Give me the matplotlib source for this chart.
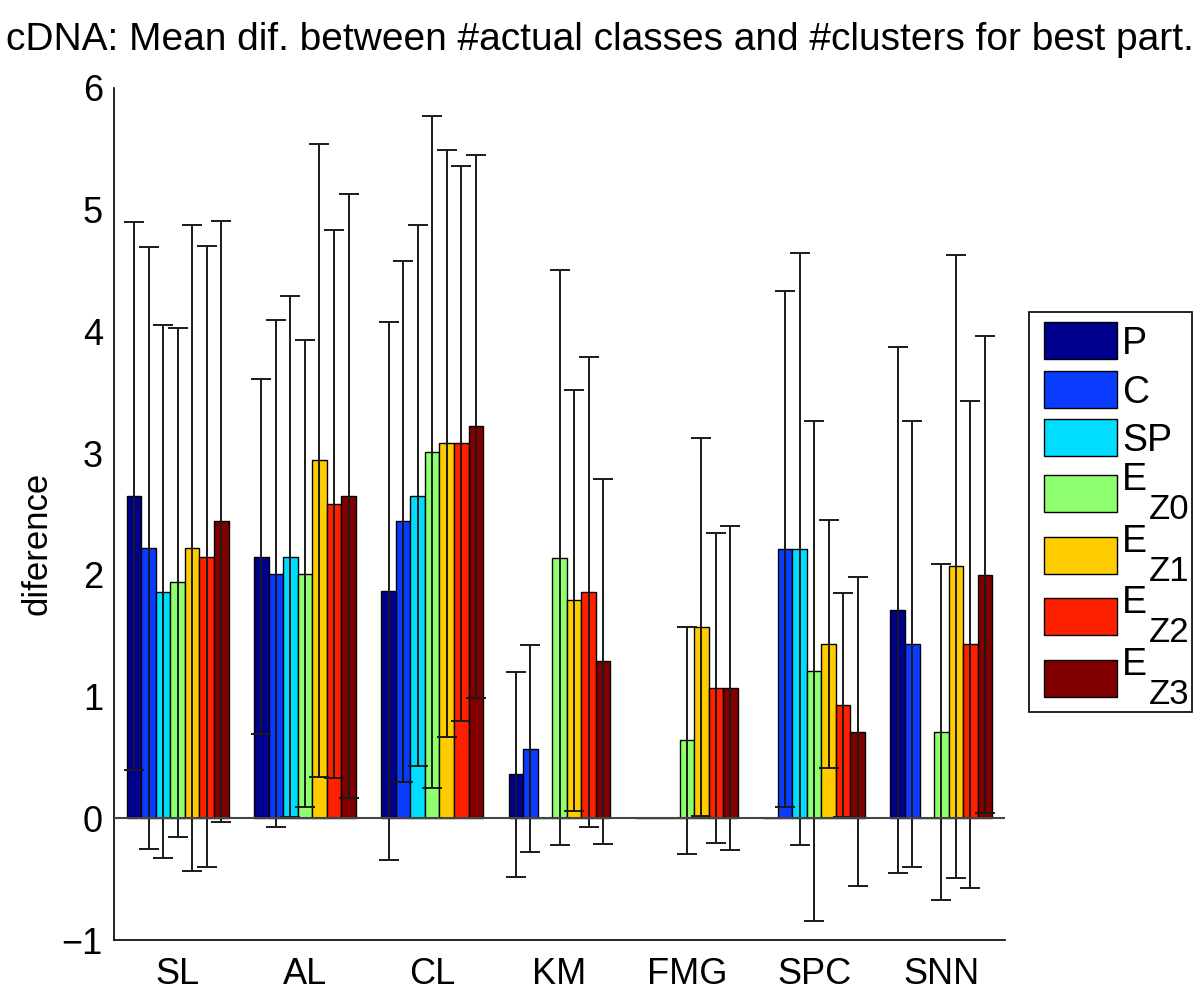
# grouped bars with error bars, matlab-ish look
import matplotlib
matplotlib.use("Agg")
import matplotlib.pyplot as plt
from matplotlib.patches import Rectangle
import numpy as np

plt.rcParams['font.family'] = ['Liberation Sans', 'DejaVu Sans']

# data
methods = ['SL', 'AL', 'CL', 'KM', 'FMG', 'SPC', 'SNN']
series_main = ['P', 'C', 'SP', 'E', 'E', 'E', 'E']
series_sub = ['', '', '', 'Z0', 'Z1', 'Z2', 'Z3']

mean_P   = [2.65, 2.15, 1.87, 0.36, 0.00, 0.00, 1.71]
mean_C   = [2.22, 2.01, 2.44, 0.57, 0.00, 2.21, 1.43]
mean_SP  = [1.86, 2.15, 2.65, 0.00, 0.00, 2.21, 0.00]
mean_EZ0 = [1.94, 2.01, 3.01, 2.14, 0.64, 1.21, 0.71]
mean_EZ1 = [2.22, 2.94, 3.08, 1.79, 1.57, 1.43, 2.07]
mean_EZ2 = [2.15, 2.58, 3.08, 1.86, 1.07, 0.93, 1.43]
mean_EZ3 = [2.44, 2.65, 3.22, 1.29, 1.07, 0.71, 2.00]

sd_P   = [2.25, 1.46, 2.21, 0.84, 0.00, 0.00, 2.16]
sd_C   = [2.47, 2.08, 2.14, 0.85, 0.00, 2.12, 1.83]
sd_SP  = [2.19, 2.14, 2.22, 0.00, 0.00, 2.43, 0.00]
sd_EZ0 = [2.09, 1.92, 2.76, 2.36, 0.93, 2.05, 1.38]
sd_EZ1 = [2.65, 2.60, 2.41, 1.73, 1.55, 1.02, 2.56]
sd_EZ2 = [2.55, 2.25, 2.28, 1.93, 1.27, 0.92, 2.00]
sd_EZ3 = [2.47, 2.48, 2.23, 1.50, 1.33, 1.27, 1.96]

colores = ['#00008F', '#0A3CFF', '#00DDFF', '#8FFF70', '#FFCC00', '#FF2000', '#800000']

medias = [mean_P, mean_C, mean_SP, mean_EZ0, mean_EZ1, mean_EZ2, mean_EZ3]
desvs = [sd_P, sd_C, sd_SP, sd_EZ0, sd_EZ1, sd_EZ2, sd_EZ3]

W, H = 1200, 992
fig = plt.figure(figsize=(W / 100, H / 100), dpi=100)
ax = fig.add_axes([0.095, 0.0524, 0.7425, 0.859])

x = np.arange(1, len(methods) + 1)
n = len(medias)
w = 0.8 / n

for i in range(n):
    pos = x + (i - (n - 1) / 2) * w
    m = np.array(medias[i])
    s = np.array(desvs[i])
    ax.bar(pos, m, width=w, color=colores[i], edgecolor='black', linewidth=1.0, zorder=2)
    ok = s > 0
    ax.errorbar(pos[ok], m[ok], yerr=s[ok], fmt='none', ecolor='#1a1a1a',
                elinewidth=1.4, capsize=7.5, capthick=1.4, zorder=3)

ax.axhline(0, color='#444444', linewidth=1.5, zorder=4)

ax.set_xlim(0.5, 7.5)
ax.set_ylim(-1, 6)
ax.set_xticks(x)
ax.set_xticklabels(methods)
ax.set_yticks(range(-1, 7))
ax.set_yticklabels(['\u22121', '0', '1', '2', '3', '4', '5', '6'])
ax.tick_params(axis='both', length=0, labelsize=26, pad=8)
ax.tick_params(axis='x', pad=12)

ax.spines['top'].set_visible(False)
ax.spines['right'].set_visible(False)
ax.spines['left'].set_linewidth(1.2)
ax.spines['bottom'].set_linewidth(1.2)

ax.set_ylabel('diference', fontsize=25)
ax.yaxis.set_label_coords(-0.068, 0.465)

fig.text(0.5, 1 - 40 / H, 'cDNA: Mean dif. between #actual classes and #clusters for best part.',
         ha='center', va='center', fontsize=28)

# legend drawn by hand (matlab style, big subscripts)
def fx(px):
    return px / W

def fy(py):
    return 1 - py / H

leg_left, leg_right, leg_top, leg_bot = 1029, 1192, 312, 712
fig.add_artist(Rectangle((fx(leg_left), fy(leg_bot)), fx(leg_right - leg_left),
                         (leg_bot - leg_top) / H, transform=fig.transFigure,
                         facecolor='white', edgecolor='black', linewidth=1.2))
patch_tops = [322, 371, 419, 475, 537, 598, 660]
patch_h = 37
for i in range(n):
    yt = patch_tops[i]
    yb = yt + patch_h
    fig.add_artist(Rectangle((fx(1044), fy(yb)), fx(1117 - 1044), patch_h / H,
                             transform=fig.transFigure, facecolor=colores[i],
                             edgecolor='black', linewidth=1.0))
    if series_sub[i] == '':
        fig.text(fx(1122), fy(yb - 5), series_main[i], fontsize=27, va='baseline', ha='left')
    else:
        fig.text(fx(1122), fy(yt + 15), series_main[i], fontsize=27, va='baseline', ha='left')
        fig.text(fx(1149), fy(yb + 7), series_sub[i], fontsize=25, va='baseline', ha='left')

fig.savefig('out.png', dpi=100)
